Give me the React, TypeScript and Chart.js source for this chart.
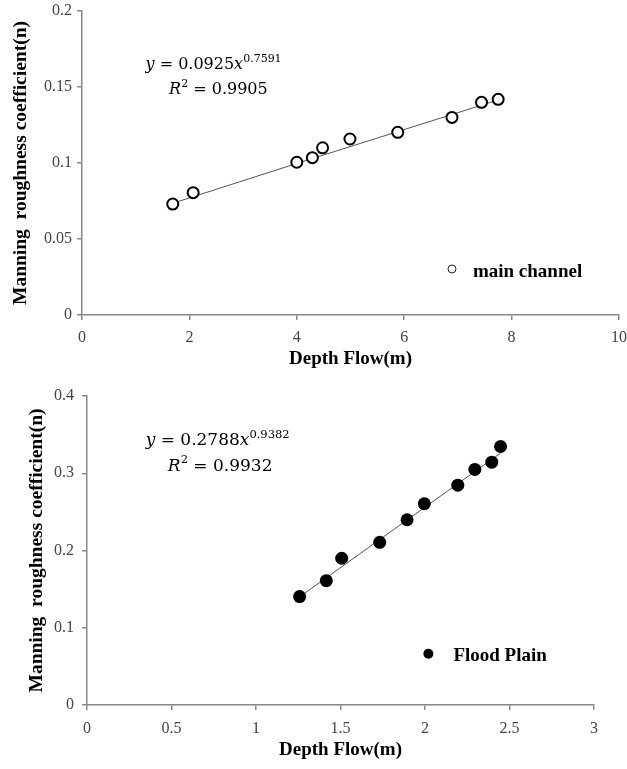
import React, { useEffect, useRef } from "react";
import { Chart, registerables } from "chart.js";

Chart.register(...registerables);

// ---------- data ----------
const mainDepth = [1.69, 2.07, 4.0, 4.29, 4.48, 4.99, 5.88, 6.89, 7.44, 7.75];
const mainN = [0.073, 0.0805, 0.1005, 0.1035, 0.11, 0.1158, 0.1202, 0.13, 0.1399, 0.1419];
const mainTrendDepth = [1.69, 4.0, 7.75];
const mainTrendN = [0.0735, 0.0997, 0.1415];

const floodDepth = [1.258, 1.416, 1.507, 1.732, 1.894, 1.996, 2.194, 2.295, 2.395, 2.447];
const floodN = [0.1403, 0.161, 0.19, 0.2106, 0.2398, 0.2605, 0.2846, 0.305, 0.3143, 0.3346];
const floodTrendDepth = [1.258, 2.447];
const floodTrendN = [0.14, 0.326];

const xTitle = "Depth Flow(m)";
const yTitle = "Manning  roughness coefficient(n)";
const mainLabel = "main channel";
const floodLabel = "Flood Plain";
const mainEq = ["0.0925", "0.7591", "0.9905"];
const floodEq = ["0.2788", "0.9382", "0.9932"];

const SERIF = '"Liberation Serif", "Times New Roman", serif';
const EQFONT = '"DejaVu Serif", serif';

const fmt = (v: any) => String(Number(Number(v).toFixed(3)));

const overlayPlugin = {
  id: "overlay",
  afterDatasetsDraw(chart: any, _args: any, opts: any) {
    const { ctx, scales } = chart;
    const xs = scales.x;
    const ys = scales.y;
    ctx.save();
    ctx.textAlign = "left";
    ctx.textBaseline = "alphabetic";
    ctx.fillStyle = "#000";
    for (const line of opts.equations || []) {
      const cx = xs.getPixelForValue(line.x);
      const cy = ys.getPixelForValue(line.y);
      const fontFor = (p: any) =>
        `${p.it ? "italic " : ""}${p.sup ? opts.supSize : opts.eqSize}px ${EQFONT}`;
      let w = 0;
      for (const p of line.pieces) {
        ctx.font = fontFor(p);
        w += ctx.measureText(p.t).width;
      }
      let x = cx - w / 2;
      for (const p of line.pieces) {
        ctx.font = fontFor(p);
        ctx.fillText(p.t, x, cy - (p.sup ? opts.supRise : 0));
        x += ctx.measureText(p.t).width;
      }
    }
    const lg = opts.legend;
    if (lg) {
      const mx = xs.getPixelForValue(lg.mx);
      const my = ys.getPixelForValue(lg.my);
      ctx.beginPath();
      ctx.arc(mx, my, lg.r, 0, Math.PI * 2);
      if (lg.filled) {
        ctx.fillStyle = "#000";
        ctx.fill();
      } else {
        ctx.fillStyle = "#fff";
        ctx.fill();
        ctx.lineWidth = 1;
        ctx.strokeStyle = "#222";
        ctx.stroke();
      }
      ctx.fillStyle = "#000";
      ctx.font = `bold ${lg.size}px ${SERIF}`;
      ctx.fillText(lg.text, xs.getPixelForValue(lg.tx), ys.getPixelForValue(lg.ty));
    }
    ctx.restore();
  },
};

function buildConfig(p: any) {
  return {
    type: "scatter",
    data: {
      datasets: [
        {
          type: "scatter",
          data: p.xs.map((x: number, i: number) => ({ x, y: p.ys[i] })),
          pointRadius: p.pointRadius,
          pointBorderWidth: p.pointBorder,
          pointBackgroundColor: p.filled ? "#000" : "#fff",
          pointBorderColor: "#000",
          order: 0,
        },
        {
          type: "line",
          data: p.tx.map((x: number, i: number) => ({ x, y: p.ty[i] })),
          borderColor: "#555",
          borderWidth: 1,
          pointRadius: 0,
          fill: false,
          tension: 0,
          order: 1,
        },
      ],
    },
    options: {
      responsive: false,
      animation: false,
      layout: { padding: p.padding },
      plugins: {
        legend: { display: false },
        tooltip: { enabled: false },
        overlay: p.overlay,
      },
      scales: {
        x: {
          type: "linear",
          min: 0,
          max: p.xMax,
          ticks: {
            stepSize: p.xStep,
            font: { family: SERIF, size: 16 },
            color: "#444",
            padding: p.xTickPad,
            callback: fmt,
            maxRotation: 0,
            autoSkip: false,
          },
          grid: { drawOnChartArea: false, drawTicks: true, tickLength: 5, color: "#888", lineWidth: 1.5 },
          border: { display: true, color: "#888", width: 1.5 },
          title: {
            display: true,
            text: xTitle,
            color: "#000",
            font: { family: SERIF, size: 19, weight: "bold", lineHeight: 1.2 },
            padding: { top: 0, bottom: p.xTitlePad },
          },
          afterFit: (s: any) => {
            s.height = p.xHeight;
            s.paddingLeft = 0;
            s.paddingRight = 0;
          },
        },
        y: {
          type: "linear",
          min: 0,
          max: p.yMax,
          ticks: {
            stepSize: p.yStep,
            font: { family: SERIF, size: 16 },
            color: "#444",
            padding: p.yTickPad,
            callback: fmt,
            autoSkip: false,
          },
          grid: { drawOnChartArea: false, drawTicks: true, tickLength: 5, color: "#888", lineWidth: 1.5 },
          border: { display: true, color: "#888", width: 1.5 },
          title: {
            display: true,
            text: yTitle,
            color: "#000",
            font: { family: SERIF, size: 19.5, weight: "bold", lineHeight: 1.2 },
            padding: { top: p.yTitlePad, bottom: 0 },
          },
          afterFit: (s: any) => {
            s.width = p.yWidth;
            s.paddingTop = 0;
            s.paddingBottom = 0;
          },
        },
      },
    },
    plugins: [overlayPlugin],
  };
}

const mainConfig = buildConfig({
  xs: mainDepth,
  ys: mainN,
  tx: mainTrendDepth,
  ty: mainTrendN,
  filled: false,
  pointRadius: 5.5,
  pointBorder: 2,
  xMax: 10,
  xStep: 2,
  yMax: 0.2,
  yStep: 0.05,
  padding: { left: 0, right: 8, top: 11, bottom: 0 },
  yWidth: 82,
  xHeight: 60,
  xTickPad: 8,
  yTickPad: 5,
  xTitlePad: 5,
  yTitlePad: 9.3,
  overlay: {
    eqSize: 16,
    supSize: 11,
    supRise: 7,
    equations: [
      {
        x: 2.45,
        y: 0.162,
        pieces: [{ t: "y", it: true }, { t: " = " + mainEq[0] }, { t: "x", it: true }, { t: mainEq[1], sup: true }],
      },
      {
        x: 2.54,
        y: 0.1454,
        pieces: [{ t: "R", it: true }, { t: "2", sup: true }, { t: " = " + mainEq[2] }],
      },
    ],
    legend: { mx: 6.89, my: 0.0303, r: 4, filled: false, tx: 7.28, ty: 0.0253, text: mainLabel, size: 19 },
  },
});

const floodConfig = buildConfig({
  xs: floodDepth,
  ys: floodN,
  tx: floodTrendDepth,
  ty: floodTrendN,
  filled: true,
  pointRadius: 6.5,
  pointBorder: 0,
  xMax: 3,
  xStep: 0.5,
  yMax: 0.4,
  yStep: 0.1,
  padding: { left: 0, right: 33, top: 16, bottom: 0 },
  yWidth: 87,
  xHeight: 64,
  xTickPad: 9,
  yTickPad: 8,
  xTitlePad: 8,
  yTitlePad: 25.7,
  overlay: {
    eqSize: 17,
    supSize: 11.5,
    supRise: 7.5,
    equations: [
      {
        x: 0.773,
        y: 0.3363,
        pieces: [{ t: "y", it: true }, { t: " = " + floodEq[0] }, { t: "x", it: true }, { t: floodEq[1], sup: true }],
      },
      {
        x: 0.788,
        y: 0.3031,
        pieces: [{ t: "R", it: true }, { t: "2", sup: true }, { t: " = " + floodEq[2] }],
      },
    ],
    legend: { mx: 2.02, my: 0.0663, r: 5, filled: true, tx: 2.168, ty: 0.0572, text: floodLabel, size: 19 },
  },
});

function ChartCanvas({ config, width, height, top }: any) {
  const ref = useRef<HTMLCanvasElement>(null);
  useEffect(() => {
    const chart = new Chart(ref.current as HTMLCanvasElement, config as any);
    return () => chart.destroy();
  }, [config]);
  return (
    <canvas
      ref={ref}
      width={width}
      height={height}
      style={{ position: "absolute", left: 0, top, width, height, display: "block" }}
    />
  );
}

export default function App() {
  return (
    <div style={{ position: "absolute", left: 0, top: 0, width: 627, height: 769, background: "#fff" }}>
      <ChartCanvas config={mainConfig} width={627} height={375} top={0} />
      <ChartCanvas config={floodConfig} width={627} height={389} top={380} />
    </div>
  );
}
